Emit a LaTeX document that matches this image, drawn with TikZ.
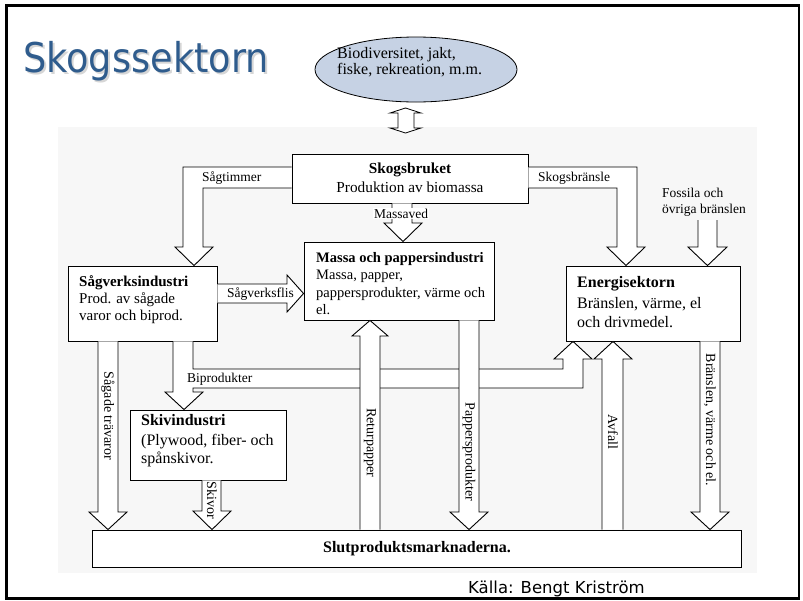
\documentclass[tikz,border=0pt]{standalone}
\usepackage{fontspec}
\usepackage{graphicx}
\setmainfont{Liberation Serif}
\newfontfamily\titlefont{DejaVu Sans}
\usetikzlibrary{shapes.geometric}
\definecolor{titleblue}{RGB}{47,92,141}
\definecolor{ellfill}{RGB}{198,210,228}
\begin{document}
\begin{tikzpicture}[x=1pt,y=-1pt,
  box/.style={draw, line width=0.9pt, fill=white, rectangle, inner sep=0pt},
  ba/.style={draw, line width=0.9pt, fill=white, line join=miter},
  txt/.style={anchor=base west, inner sep=0pt},
  lbl/.style={anchor=base west, inner sep=0pt, font=\fontsize{13.5}{14}\selectfont},
  vlbl/.style={font=\fontsize{14}{14}\selectfont, rotate=-90, inner sep=0pt, anchor=center},
  f15/.style={font=\fontsize{15}{18}\selectfont},
  f145/.style={font=\fontsize{14.5}{18}\selectfont},
  f16/.style={font=\fontsize{16}{19}\selectfont},
  ttl/.style={anchor=base west, inner sep=0pt, font=\titlefont\fontsize{41}{41}\selectfont}
  ]
\useasboundingbox (0,0) rectangle (803,600);
\fill[white] (0,0) rectangle (803,600);
\fill[black!3] (58,127) rectangle (757,573);

% title (with soft shadow)
\node[ttl, text=titleblue] (title) at (23,72)
  {\rlap{\hspace{2pt}\raisebox{-2pt}{\color{black!16}\scalebox{0.895}[1]{Skogssektorn}}}\scalebox{0.895}[1]{Skogssektorn}};

% ellipse
\node[ellipse, draw, line width=0.8pt, fill=ellfill, minimum width=202pt, minimum height=65pt, inner sep=0pt] (bio) at (416,69.5) {};
\node[txt, font=\fontsize{16}{16}\selectfont] (bio1) at (337,58) {Biodiversitet, jakt,};
\node[txt, font=\fontsize{16}{16}\selectfont] (bio2) at (337,74) {fiske, rekreation, m.m.};

% double arrow
\draw[ba, line width=0.8pt] (405.5,108) -- (421,113) -- (414,113) -- (414,128) -- (421,128) -- (405.5,133)
  -- (390,128) -- (398,128) -- (398,113) -- (390,113) -- cycle;

% boxes
\node[box, minimum width=236pt, minimum height=49pt] (skog) at (410,178.5) {};
\node[box, minimum width=190pt, minimum height=78pt] (massa) at (399,281) {};
\node[box, minimum width=149pt, minimum height=75pt] (sag) at (142.5,303.5) {};
\node[box, minimum width=174pt, minimum height=75pt] (energi) at (653,303.5) {};
\node[box, minimum width=156pt, minimum height=70pt] (skiv) at (208,445) {};
\node[box, minimum width=649pt, minimum height=37pt] (slut) at (416.5,548.5) {};

% box texts
\node[anchor=base, inner sep=0pt, font=\bfseries\fontsize{15.3}{18}\selectfont] (skogA) at (410,173) {Skogsbruket};
\node[anchor=base, inner sep=0pt, font=\fontsize{15.3}{18}\selectfont] (skogB) at (410,192) {Produktion av biomassa};

\node[txt, font=\bfseries\fontsize{14.5}{18}\selectfont] (massaA) at (316,262) {Massa och pappersindustri};
\node[txt, f145] (massaB) at (316,279) {Massa, papper,};
\node[txt, f145] (massaC) at (316,297) {pappersprodukter, värme och};
\node[txt, f145] (massaD) at (316,314) {el.};

\node[txt, font=\bfseries\fontsize{15}{18}\selectfont] (sagA) at (79,286) {Sågverksindustri};
\node[txt, f15] (sagB) at (79,303) {Prod. av sågade};
\node[txt, f15] (sagC) at (79,320) {varor och biprod.};

\node[txt, font=\bfseries\fontsize{16}{19}\selectfont] (enA) at (577,287) {Energisektorn};
\node[txt, f16] (enB) at (577,308) {Bränslen, värme, el};
\node[txt, f16] (enC) at (577,327) {och drivmedel.};

\node[txt, font=\bfseries\fontsize{16}{19}\selectfont] (skivA) at (141,425) {Skivindustri};
\node[txt, f16] (skivB) at (141,445) {(Plywood, fiber- och};
\node[txt, f16] (skivC) at (141,463) {spånskivor.};

\node[anchor=base, inner sep=0pt, font=\bfseries\fontsize{16}{19}\selectfont] (slutA) at (417,552) {Slutproduktsmarknaderna.};

% Sågtimmer arrow
\draw[ba] (skog.west |- 0,167) -- (183,167) -- (183,247) -- (175,247) -- (sag.north -| 194,0)
  -- (213,247) -- (203,247) -- (203,188) -- (skog.west |- 0,188);
\node[lbl] (lsagt) at (202,181) {Sågtimmer};

% Skogsbränsle arrow
\draw[ba] (skog.east |- 0,167) -- (637,167) -- (637,247) -- (645,247) -- (energi.north -| 626,0)
  -- (607,247) -- (617,247) -- (617,188) -- (skog.east |- 0,188);
\node[lbl] (lskogsb) at (538,181) {Skogsbränsle};

% Fossila arrow
\coordinate (fostop) at (707.5,220);
\draw[ba] (fostop -| 698,0) -- (698,247) -- (688,247) -- (energi.north -| 707.5,0) -- (727,247) -- (717,247) -- (fostop -| 717,0);
\node[lbl] (lfos1) at (662,197) {Fossila och};
\node[lbl] (lfos2) at (662,213) {övriga bränslen};

% Massaved arrow
\draw[ba] (skog.south -| 392,0) -- (392,223) -- (384,223) -- (massa.north -| 403,0) -- (422,223) -- (412,223) -- (skog.south -| 412,0);
\node[lbl, fill=white, inner sep=1pt] (lmassav) at (373,218) {Massaved};

% Sågverksflis arrow
\draw[ba] (sag.east |- 0,284) -- (287,284) -- (287,275) -- (massa.west |- 0,293.5) -- (287,312) -- (287,303) -- (sag.east |- 0,303);
\node[lbl] (lsagf) at (227,297) {Sågverksflis};

% Biprodukter / Skiv arrow
\draw[ba] (sag.south -| 173,0) -- (173,392) -- (165,392) -- (skiv.north -| 184,0) -- (203,392) -- (193,392) -- (193,388)
  -- (583,388) -- (583,359) -- (592,359) -- (energi.south -| 573,0) -- (554,359) -- (563,359) -- (563,369)
  -- (193,369) -- (sag.south -| 193,0);
\node[lbl] (lbip) at (187,382) {Biprodukter};

% Sågade trävaror
\draw[ba] (sag.south -| 98,0) -- (98,512) -- (89,512) -- (slut.north -| 108,0) -- (127,512) -- (118,512) -- (sag.south -| 118,0);
\node[vlbl] (lsagade) at (108,416) {Sågade trävaror};

% Skivor
\draw[ba] (skiv.south -| 202,0) -- (202,511) -- (193,511) -- (slut.north -| 212,0) -- (231,511) -- (221,511) -- (skiv.south -| 221,0);
\node[vlbl] (lskivor) at (212,500) {Skivor};

% Returpapper
\draw[ba] (slut.north -| 360,0) -- (360,336) -- (352,336) -- (massa.south -| 370,0) -- (388,336) -- (380,336) -- (slut.north -| 380,0);
\node[vlbl] (lretur) at (370,443) {Returpapper};

% Pappersprodukter
\draw[ba] (massa.south -| 459,0) -- (459,512) -- (450,512) -- (slut.north -| 469,0) -- (488,512) -- (479,512) -- (massa.south -| 479,0);
\node[vlbl] (lpapp) at (469,452) {Pappersprodukter};

% Avfall
\draw[ba] (slut.north -| 602,0) -- (602,359) -- (594,359) -- (energi.south -| 613,0) -- (632,359) -- (623,359) -- (slut.north -| 623,0);
\node[vlbl] (lavf) at (613,432) {Avfall};

% Bränslen, värme och el.
\draw[ba] (energi.south -| 700,0) -- (700,512) -- (691,512) -- (slut.north -| 710,0) -- (729,512) -- (720,512) -- (energi.south -| 720,0);
\node[vlbl] (lbran) at (710,420) {Bränslen, värme och el.};

% source
\node[anchor=base west, inner sep=0pt, font=\titlefont\fontsize{16.5}{17}\selectfont] (kalla) at (468,593) {Källa: Bengt Kriström};

% frame
\draw[line width=2.8pt] (6.3,5.5) rectangle (799,598.5);
\end{tikzpicture}
\end{document}
